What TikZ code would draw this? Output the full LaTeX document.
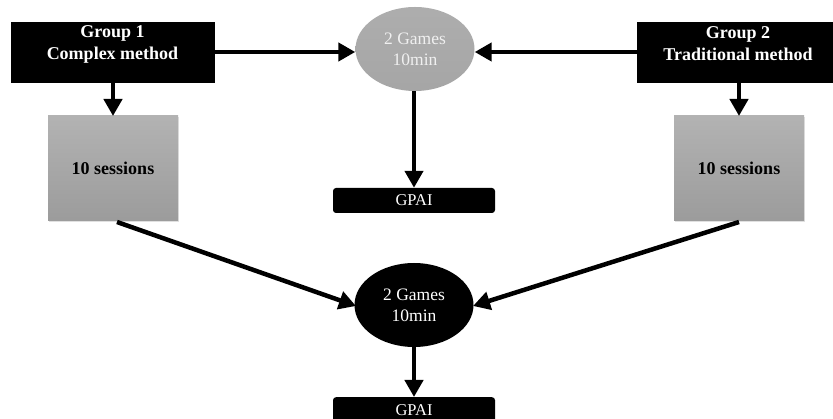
\documentclass[tikz,border=0pt]{standalone}
\usepackage{fontspec}
\setmainfont{Liberation Serif}
\usetikzlibrary{arrows.meta,shadows,shapes.geometric}
\begin{document}
\begin{tikzpicture}[x=1pt,y=-1pt,
  grpbox/.style={fill=black,draw=black},
  grptext/.style={text=white,font=\bfseries\fontsize{18}{22}\selectfont,align=center},
  sessbox/.style={top color=gray!60,bottom color=gray!78,draw=none,
    drop shadow={shadow xshift=1pt,shadow yshift=-1pt,fill=gray!40,opacity=0.6}},
  sesstext/.style={font=\bfseries\fontsize{18}{20}\selectfont},
  gamesell/.style={ellipse,minimum width=119pt,minimum height=84pt,inner sep=0pt,align=center,
    font=\fontsize{17.5}{21}\selectfont},
  gpaibox/.style={fill=black,rounded corners=3pt,minimum width=162pt,minimum height=25pt,
    inner sep=0pt,text=white,font=\fontsize{16.5}{18}\selectfont},
  arr/.style={line width=4.5pt,-{Triangle[length=17pt,width=18pt]}}
]
\useasboundingbox (0,0) rectangle (833,419);
\begin{scope}
\clip (0,0) rectangle (833,419);
% group boxes
\path[grpbox] (11,22) rectangle (214,82);
\node[grptext] (g1) at (112.5,44) {Group 1\\Complex method};
\path[grpbox] (637,22) rectangle (833,82);
\node[grptext] (g2) at (738,44) {Group 2\\Traditional method};
% session boxes
\path[sessbox] (48,116) rectangle (178,221);
\node[sesstext] (s1) at (113,168) {10 sessions};
\path[sessbox] (674,116) rectangle (804,221);
\node[sesstext] (s2) at (739,168) {10 sessions};
% ellipses
\node[gamesell,top color=gray!64,bottom color=gray!70,text=white!88!gray] (e1) at (415,49) {2 Games\\10min};
\node[gamesell,fill=black,text=white] (e2) at (414,305) {2 Games\\10min};
% GPAI
\node[gpaibox] (p1) at (414,200.5) {GPAI};
\node[gpaibox,anchor=north] (p2) at (414,397) {GPAI};
% arrows
\coordinate (a1s) at (214,52);
\coordinate (a2s) at (637,52);
\draw[arr] (a1s) -- (e1.west |- a1s);
\draw[arr] (a2s) -- (e1.east |- a2s);
\draw[arr] (113,82) -- (113,116);
\draw[arr] (739,82) -- (739,116);
\draw[arr] (e1.south -| p1.north) -- (p1.north);
\draw[arr] (e2.south -| p2.north) -- (p2.north);
\coordinate (d1) at (117,222);
\coordinate (d2) at (739,222);
\draw[arr] (d1) -- (356,306);
\draw[arr] (d2) -- (473,306);
\end{scope}
\end{tikzpicture}
\end{document}
